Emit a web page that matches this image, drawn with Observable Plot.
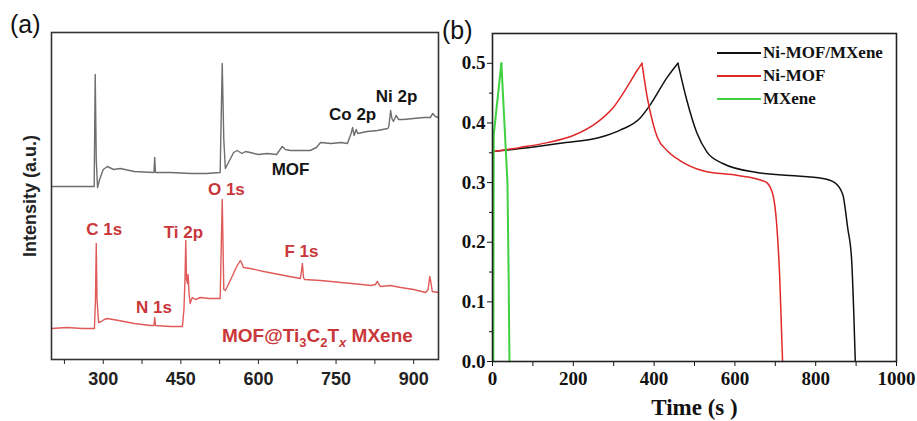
<!DOCTYPE html>
<html><head><meta charset="utf-8">
<script src="https://cdn.jsdelivr.net/npm/d3@7"></script>
<script src="https://cdn.jsdelivr.net/npm/@observablehq/plot@0.6"></script>
<style>
body{margin:0;background:#fff;width:917px;height:421px;overflow:hidden;position:relative}
#a,#b{position:absolute;top:0}
#a{left:0} #b{left:440px}
.lab{position:absolute;font-family:"Liberation Sans",Arial,sans-serif;font-size:25px;color:#111;line-height:1}
#legend{position:absolute;left:717px;top:41px;font-family:"Liberation Serif","Times New Roman",serif;font-weight:bold;font-size:17px;color:#111}
#legend .row{height:23px;display:flex;align-items:center}
#legend .sw{display:inline-block;width:44px;height:2px;margin-right:2px}
</style></head><body>
<div id="a"></div><div id="b"></div>
<div class="lab" style="left:10px;top:12px">(a)</div>
<div class="lab" style="left:442px;top:18px">(b)</div>
<div id="legend"></div>
<script>
// ---- Panel (a): XPS survey spectra (binding energy, eV ; intensity, a.u.)
const mofBE = [200,282.5,284.5,286.5,289,293,300,308,320,333,360,398,399.5,401,430,470,500,526,530,533,536,545,552,559,568,575,584,600,617,635,646,652,662,680,700,712,720,740,760,772,779,782,785,789,792,810,830,850,852,855.5,858,861,866,871,880,900,920,932,937,942,948];
const mofI  = [173,173,285,200,172,180,190,193,190,191,188,187,202,187,187,186,186,187,296,220,191,200,207,209,206,208,207,205,206,205,213,210,209,209,209,212,217,216,217,216,226,232,224,230,226,228,229,231,233,249,241,238,244,240,240,241,242,242,246,243,242];
const mxBE = [200,230,260,283,285,286.5,288,291,296,302,308,330,360,391,398,399.5,401,430,453,456,458,459.5,461,463,464,466,468,472,478,488,505,522,526,530,533,536,540,550,558,565,568,571,584,610,640,660,681,683,685,687,689,720,760,800,817,826,830,833,836,855,875,900,923,928,931,933,936,948];
const mxI  = [31,32,31,31,60,116,60,37,38,40,41,39,36,34,34,42,34,33,33,50,80,119,80,76,85,65,56,62,60,62,61,61,61,160,70,69,73,84,93,99,96,92,91,88,85,83,81,88,96,82,80,79,77,75,74,75,78,75,73,74,72,70,67,70,83,78,68,67];
const xTicksA = [300,450,600,750,900];
const xMinorA = [225,375,525,675,825];
const blackLabelsA = ["MOF","Co 2p","Ni 2p"];
const blackLabelBE = [662,782,867];
const blackLabelI  = [190,245,263];
const redLabelsA = ["C 1s","Ti 2p","O 1s","N 1s","F 1s","MOF@Ti3C2Tx MXene"];
const redLabelBE = [302,455,538,398,683,714];
const redLabelI  = [130,127,170,52,108,24];

// ---- Panel (b): GCD curves (time s ; potential V)
const nmmT = [2,69,168,267,316,365,390,432,459,481,506,531,570,654,736,817,847,867,879,889,894,898];
const nmmV = [0.352,0.357,0.366,0.376,0.388,0.408,0.43,0.476,0.5,0.438,0.383,0.351,0.332,0.317,0.312,0.307,0.300,0.28,0.225,0.17,0.086,0];
const nmT = [2,69,136,200,259,299,333,358,370,383,397,408,432,464,521,608,665,679,694,704,711,718];
const nmV = [0.352,0.359,0.367,0.379,0.401,0.426,0.46,0.488,0.5,0.443,0.40,0.376,0.354,0.337,0.32,0.312,0.304,0.30,0.28,0.225,0.14,0];
const mxT = [2,3,22,37,40,42];
const mxV = [0,0.38,0.5,0.30,0.14,0];
const seriesNames = ["Ni-MOF/MXene","Ni-MOF","MXene"];
const seriesColors = ["#111111","#e02828","#3fd13f"];
const yTicksB = [0,0.1,0.2,0.3,0.4,0.5];
const yMinorB = [0.05,0.15,0.25,0.35,0.45];
const xTicksB = [0,200,400,600,800,1000];
const xMinorB = [100,300,500,700,900];

const zip = (xs, ys) => xs.map((x, i) => ({x, y: ys[i]}));
const sans = '"Liberation Sans", Arial, sans-serif';
const serif = '"Liberation Serif", "Times New Roman", serif';

const plotA = Plot.plot({
  width: 440, height: 421,
  marginLeft: 51, marginRight: 2, marginTop: 32, marginBottom: 62,
  style: {fontFamily: sans, background: "transparent"},
  x: {domain: [200, 948]},
  y: {domain: [0, 327]},
  marks: [
    Plot.line(zip(mofBE, mofI), {x: "x", y: "y", stroke: "#6e6e6e", strokeWidth: 1.4}),
    Plot.line(zip(mxBE, mxI), {x: "x", y: "y", stroke: "#e05a5a", strokeWidth: 1.4}),
    Plot.axisX({ticks: xTicksA, tickSize: 5, tickPadding: 8, fontSize: 18, fontWeight: "bold", label: null, tickFormat: d => String(d), stroke: "#222", color: "#222"}),
    Plot.axisX({ticks: xMinorA, tickSize: 5, tickFormat: () => "", label: null, stroke: "#222"}),
    Plot.axisY({ticks: [], label: null}),
    Plot.frame({stroke: "#333", strokeWidth: 1.6}),
    Plot.text(["Intensity (a.u.)"], {frameAnchor: "left", textAnchor: "middle", rotate: -90, dx: -21, fontSize: 18, fontWeight: "bold", fill: "#222"}),
    Plot.text(blackLabelsA.map((t, i) => ({t, x: blackLabelBE[i], y: blackLabelI[i]})), {x: "x", y: "y", text: "t", fontSize: 17, fontWeight: "bold", fill: "#151515", lineAnchor: "middle"}),
    Plot.text(redLabelsA.map((t, i) => ({t, x: redLabelBE[i], y: redLabelI[i]})), {x: "x", y: "y", text: "t", fontSize: 17, fontWeight: "bold", fill: "#c9373a", lineAnchor: "middle"})
  ]
});
document.getElementById("a").append(plotA);
// subscripts for Ti3C2Tx
plotA.querySelectorAll("text").forEach(el => {
  if (el.textContent === "MOF@Ti3C2Tx MXene") {
    el.textContent = "";
    const ns = "http://www.w3.org/2000/svg";
    const parts = [["MOF@Ti",0,null],["3",5,"s"],["C",-5,null],["2",5,"s"],["T",-5,null],["x",5,"i"],[" MXene",-5,null]];
    for (const [s, dy, k] of parts) {
      const t = document.createElementNS(ns, "tspan");
      t.textContent = s;
      if (dy) t.setAttribute("dy", dy);
      if (k) t.setAttribute("font-size", 13);
      if (k === "i") t.setAttribute("font-style", "italic");
      el.append(t);
    }
    el.setAttribute("font-size", 19);
  }
});

// split each GCD curve at its peak (charge / discharge branches)
const branches = (xs, ys) => {
  const p = ys.indexOf(d3.max(ys));
  return xs.map((x, i) => ({x, y: ys[i], seg: "c"})).slice(0, p + 1)
    .concat(xs.map((x, i) => ({x, y: ys[i], seg: "d"})).slice(p));
};
const series = [branches(nmmT, nmmV), branches(nmT, nmV), branches(mxT, mxV)];
const plotB = Plot.plot({
  width: 477, height: 421,
  marginLeft: 52, marginRight: 21, marginTop: 33, marginBottom: 60,
  style: {fontFamily: serif, background: "transparent"},
  x: {domain: [0, 1000]},
  y: {domain: [0, 0.55]},
  marks: [
    ...series.map((d, i) => Plot.line(d, {x: "x", y: "y", z: "seg", curve: i === 2 ? "linear" : "monotone-x", stroke: seriesColors[i], strokeWidth: i === 2 ? 2 : 1.5})),
    Plot.axisY({ticks: yTicksB, tickSize: 5, tickPadding: 2, tickFormat: d3.format(".1f"), fontSize: 19, fontWeight: "bold", label: null, stroke: "#111", color: "#111"}),
    Plot.axisY({ticks: yMinorB, tickSize: 3, tickFormat: () => "", label: null, stroke: "#111"}),
    Plot.axisX({ticks: xTicksB, tickSize: 5, tickPadding: 5, tickFormat: d => String(d), fontSize: 19, fontWeight: "bold", label: null, stroke: "#111", color: "#111"}),
    Plot.axisX({ticks: xMinorB, tickSize: 5, tickFormat: () => "", label: null, stroke: "#111"}),
    Plot.frame({stroke: "#222", strokeWidth: 1.6}),
    Plot.text(["Time (s )"], {frameAnchor: "bottom", dy: 46, fontSize: 23, fontWeight: "bold", fill: "#111", lineAnchor: "middle"})
  ]
});
document.getElementById("b").append(plotB);

const leg = document.getElementById("legend");
seriesNames.forEach((n, i) => {
  const r = document.createElement("div"); r.className = "row";
  const s = document.createElement("span"); s.className = "sw"; s.style.background = seriesColors[i];
  r.append(s, document.createTextNode(n)); leg.append(r);
});
</script>
</body></html>
